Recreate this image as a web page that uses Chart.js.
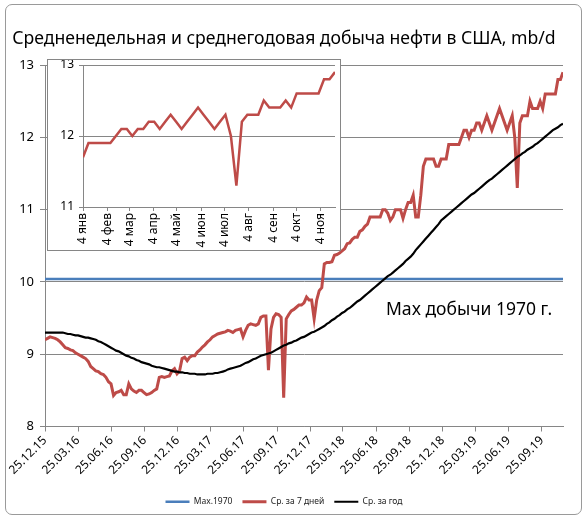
<!DOCTYPE html>
<html lang="ru">
<head>
<meta charset="UTF-8">
<title>Добыча нефти в США</title>
<script src="https://cdn.jsdelivr.net/npm/chart.js"></script>
<style>
  html, body { margin: 0; padding: 0; background: #fff; }
  .frame { position: absolute; left: 5px; top: 4px; width: 575px; height: 509px;
           border: 1px solid #9a9a9a; border-radius: 7px; }
  #main { position: absolute; left: 0; top: 0; }
  .inset { position: absolute; left: 47px; top: 59px; width: 292px; height: 190px;
           border: 1px solid #868686; background: #fff; overflow: hidden; }
  #inset { position: absolute; left: 0; top: -8px; }
</style>
</head>
<body>
<div class="frame"></div>
<canvas id="main" width="586" height="521"></canvas>
<div class="inset"><canvas id="inset" width="292" height="198"></canvas></div>

<script>
// weekly data, first week ends 25.12.15
var firstWeek = '25.12.15';

// 7-day average, 2016-2018 (mb/d)
var avg7_2016_18 = [
  9.20, 9.22, 9.24, 9.23, 9.22, 9.20, 9.17, 9.13, 9.09, 9.08,
  9.06, 9.05, 9.02, 9.00, 8.98, 8.96, 8.94, 8.90, 8.83, 8.80,
  8.77, 8.76, 8.73, 8.72, 8.68, 8.62, 8.59, 8.43, 8.47, 8.48,
  8.50, 8.44, 8.44, 8.59, 8.52, 8.49, 8.47, 8.50, 8.50, 8.47,
  8.44, 8.45, 8.47, 8.50, 8.52, 8.68, 8.69, 8.68, 8.69, 8.70,
  8.77, 8.80, 8.73, 8.77, 8.94, 8.96, 8.91, 8.96, 8.98, 8.98,
  9.03, 9.06, 9.10, 9.13, 9.17, 9.20, 9.24, 9.26, 9.28, 9.29,
  9.30, 9.31, 9.33, 9.32, 9.30, 9.33, 9.34, 9.35, 9.24, 9.33,
  9.40, 9.42, 9.41, 9.40, 9.42, 9.51, 9.53, 9.53, 8.78, 9.35,
  9.51, 9.56, 9.55, 9.51, 8.40, 9.49, 9.55, 9.60, 9.62, 9.65,
  9.68, 9.68, 9.71, 9.79, 9.75, 9.75, 9.49, 9.75, 9.88, 9.92,
  10.25, 10.27, 10.27, 10.28, 10.37, 10.38, 10.40, 10.43, 10.46, 10.53,
  10.54, 10.59, 10.62, 10.62, 10.70, 10.72, 10.77, 10.80, 10.90, 10.90,
  10.90, 10.90, 10.90, 11.00, 11.00, 10.95, 10.85, 10.90, 11.00, 11.00,
  11.00, 10.88, 11.00, 11.10, 11.10, 11.20, 10.90, 10.90, 11.20, 11.60,
  11.70, 11.70, 11.70, 11.70, 11.60, 11.60, 11.70, 11.70
];

// 7-day average, 2019 (also the inset), first week ends 04.01.19
var avg7_2019 = [
  11.7, 11.9, 11.9, 11.9, 11.9, 11.9, 12.0, 12.1, 12.1, 12.0,
  12.1, 12.1, 12.2, 12.2, 12.1, 12.2, 12.3, 12.2, 12.1, 12.2,
  12.3, 12.4, 12.3, 12.2, 12.1, 12.2, 12.3, 12.0, 11.3, 12.2,
  12.3, 12.3, 12.3, 12.5, 12.4, 12.4, 12.4, 12.5, 12.4, 12.6,
  12.6, 12.6, 12.6, 12.6, 12.8, 12.8, 12.9
];

// yearly average
var avgYear = [
  9.30, 9.30, 9.30, 9.30, 9.30, 9.30, 9.30, 9.30, 9.29, 9.28,
  9.28, 9.27, 9.26, 9.26, 9.25, 9.24, 9.23, 9.23, 9.22, 9.21,
  9.20, 9.18, 9.17, 9.15, 9.13, 9.11, 9.09, 9.07, 9.05, 9.04,
  9.02, 9.00, 8.98, 8.97, 8.95, 8.94, 8.92, 8.91, 8.89, 8.88,
  8.87, 8.86, 8.84, 8.83, 8.82, 8.82, 8.81, 8.80, 8.79, 8.78,
  8.77, 8.76, 8.76, 8.75, 8.75, 8.74, 8.74, 8.73, 8.73, 8.73,
  8.72, 8.72, 8.72, 8.72, 8.73, 8.73, 8.73, 8.74, 8.74, 8.75,
  8.76, 8.77, 8.79, 8.80, 8.81, 8.82, 8.83, 8.84, 8.86, 8.88,
  8.89, 8.91, 8.93, 8.94, 8.96, 8.98, 8.99, 9.00, 9.01, 9.02,
  9.04, 9.06, 9.08, 9.10, 9.12, 9.13, 9.15, 9.16, 9.18, 9.19,
  9.21, 9.23, 9.24, 9.26, 9.28, 9.30, 9.31, 9.33, 9.35, 9.37,
  9.39, 9.42, 9.44, 9.47, 9.49, 9.52, 9.54, 9.57, 9.59, 9.62,
  9.64, 9.67, 9.70, 9.73, 9.75, 9.78, 9.81, 9.84, 9.87, 9.90,
  9.93, 9.96, 9.99, 10.02, 10.05, 10.08, 10.10, 10.13, 10.16, 10.19,
  10.22, 10.25, 10.29, 10.32, 10.35, 10.39, 10.44, 10.48, 10.52, 10.56,
  10.60, 10.64, 10.68, 10.72, 10.76, 10.80, 10.85, 10.88, 10.91, 10.94,
  10.97, 11.00, 11.03, 11.06, 11.09, 11.12, 11.15, 11.18, 11.21, 11.23,
  11.26, 11.29, 11.32, 11.35, 11.38, 11.41, 11.43, 11.46, 11.49, 11.52,
  11.55, 11.58, 11.61, 11.64, 11.67, 11.70, 11.73, 11.75, 11.78, 11.80,
  11.83, 11.85, 11.87, 11.90, 11.92, 11.95, 11.98, 12.01, 12.04, 12.07,
  12.10, 12.12, 12.14, 12.17, 12.19
];

var max1970 = 10.04;

var xTickLabels = ['25.12.15', '25.03.16', '25.06.16', '25.09.16', '25.12.16', '25.03.17',
  '25.06.17', '25.09.17', '25.12.17', '25.03.18', '25.06.18', '25.09.18', '25.12.18',
  '25.03.19', '25.06.19', '25.09.19'];

var insetTickLabels = ['4 янв', '4 фев', '4 мар', '4 апр', '4 май', '4 июн',
  '4 июл', '4 авг', '4 сен', '4 окт', '4 ноя'];

var FONT = "'Noto Sans', sans-serif";
var GRID = '#868686';

// dd.mm.yy -> days since firstWeek
function toDay(s) {
  var p = s.split('.');
  return Date.UTC(2000 + +p[2], +p[1] - 1, +p[0]) / 86400000;
}
var day0 = toDay(firstWeek);

var avg7 = avg7_2016_18.concat(avg7_2019);
var redPts = avg7.map(function (v, i) { return { x: i * 7, y: v }; });
var blackPts = avgYear.map(function (v, i) { return { x: i * 7, y: v }; });
var lastX = (avg7.length - 1) * 7;

var xTickDays = xTickLabels.map(function (s) { return toDay(s) - day0; });

// подпись у линии максимума
var maxLabel = {
  id: 'maxLabel',
  afterDatasetsDraw: function (chart) {
    var ctx = chart.ctx, y = chart.scales.y;
    ctx.save();
    ctx.font = "17.5px " + FONT;
    ctx.fillStyle = '#000';
    ctx.textBaseline = 'middle';
    ctx.fillText('Max добычи 1970 г.', chart.chartArea.left + 341, y.getPixelForValue(9.61));
    ctx.restore();
  }
};

new Chart(document.getElementById('main'), {
  type: 'line',
  data: {
    datasets: [
      { label: 'Max.1970', data: [{ x: 0, y: max1970 }, { x: lastX, y: max1970 }],
        borderColor: '#4A7EBB', backgroundColor: '#4A7EBB', borderWidth: 2.5, order: 3 },
      { label: 'Ср. за 7 дней', data: redPts,
        borderColor: '#BE4B48', backgroundColor: '#BE4B48', borderWidth: 3, order: 2 },
      { label: 'Ср. за год', data: blackPts,
        borderColor: '#000', backgroundColor: '#000', borderWidth: 2.2, order: 1 }
    ]
  },
  options: {
    responsive: false,
    animation: false,
    elements: { point: { radius: 0 }, line: { tension: 0 } },
    layout: { padding: { left: 5, right: 23, top: 0, bottom: 5 } },
    plugins: {
      title: {
        display: true,
        text: 'Средненедельная и среднегодовая добыча нефти в США, mb/d',
        color: '#000',
        font: { family: FONT, size: 17.6, weight: 'normal' },
        padding: { top: 28, bottom: 16 }
      },
      legend: {
        position: 'bottom',
        labels: {
          usePointStyle: true, pointStyle: 'line', pointStyleWidth: 24,
          color: '#222', font: { family: FONT, size: 8.5 }, padding: 10,
          sort: function (a, b) { return a.datasetIndex - b.datasetIndex; }
        }
      },
      tooltip: { enabled: false }
    },
    scales: {
      x: {
        type: 'linear', min: 0, max: lastX,
        afterBuildTicks: function (s) { s.ticks = xTickDays.map(function (v) { return { value: v }; }); },
        afterFit: function (s) { s.height = 61; },
        ticks: {
          autoSkip: false, minRotation: 45, maxRotation: 45, padding: 2,
          color: '#000', font: { family: FONT, size: 12 },
          callback: function (v) { var i = xTickDays.indexOf(v); return i >= 0 ? xTickLabels[i] : ''; }
        },
        grid: { drawOnChartArea: false, tickLength: 5, color: GRID },
        border: { color: GRID }
      },
      y: {
        min: 8, max: 13,
        afterFit: function (s) { s.width = 40; },
        ticks: { stepSize: 1, padding: 6, color: '#000', font: { family: FONT, size: 13 } },
        grid: { color: GRID, tickLength: 5 },
        border: { color: GRID }
      }
    }
  },
  plugins: [maxLabel]
});

// вставка: 2019 год
var insetPts = avg7_2019.map(function (v, i) { return { x: i * 7, y: v }; });
var insetDays = insetTickLabels.map(function (s, m) {
  return (Date.UTC(2019, m, 4) - Date.UTC(2019, 0, 4)) / 86400000;
});

new Chart(document.getElementById('inset'), {
  type: 'line',
  data: {
    datasets: [{ label: 'Ср. за 7 дней', data: insetPts, borderColor: '#BE4B48', borderWidth: 2.5 }]
  },
  options: {
    responsive: false,
    animation: false,
    elements: { point: { radius: 0 }, line: { tension: 0 } },
    layout: { padding: { left: 0, right: 5, top: 13, bottom: 1 } },
    plugins: { legend: { display: false }, tooltip: { enabled: false } },
    scales: {
      x: {
        type: 'linear', min: 0, max: (avg7_2019.length - 1) * 7,
        afterBuildTicks: function (s) { s.ticks = insetDays.map(function (v) { return { value: v }; }); },
        afterFit: function (s) { s.height = 42; },
        ticks: {
          autoSkip: false, minRotation: 90, maxRotation: 90, padding: 2,
          color: '#000', font: { family: FONT, size: 12 },
          callback: function (v) { var i = insetDays.indexOf(v); return i >= 0 ? insetTickLabels[i] : ''; }
        },
        grid: { drawOnChartArea: false, tickLength: 4, color: GRID },
        border: { color: GRID }
      },
      y: {
        min: 11, max: 13,
        afterFit: function (s) { s.width = 35; },
        ticks: { stepSize: 1, padding: 5, color: '#000', font: { family: FONT, size: 12 } },
        grid: { color: GRID, tickLength: 4 },
        border: { color: GRID }
      }
    }
  }
});
</script>
</body>
</html>
